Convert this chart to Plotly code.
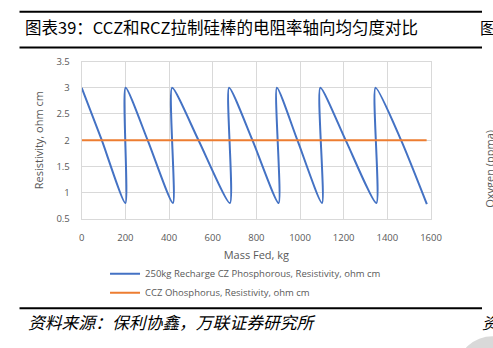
import plotly.graph_objects as go

# ---- data ----
recharge_x = [0, 92, 200, 201, 302, 418, 414, 535, 679, 675, 782, 902, 894, 988, 1101, 1093, 1209, 1350, 1346, 1463, 1581]
recharge_y = [3.0, 2.0, 0.8, 3.0, 2.0, 0.8, 3.0, 2.0, 0.8, 3.0, 2.0, 0.8, 3.0, 2.0, 0.8, 3.0, 2.0, 0.8, 3.0, 2.0, 0.78]
ccz_x = [0, 1580]
ccz_y = [2.0, 2.0]

name_recharge = "250kg Recharge CZ Phosphorous, Resistivity, ohm cm"
name_ccz = "CCZ Ohosphorus, Resistivity, ohm cm"
x_ticks = [0, 200, 400, 600, 800, 1000, 1200, 1400, 1600]
y_ticks = [0.5, 1, 1.5, 2, 2.5, 3, 3.5]
y_tick_labels = ["0.5", "1", "1.5", "2", "2.5", "3", "3.5"]

W, H = 493, 348
def px(x):
    return x / W
def py(y):
    return 1 - y / H

GRAY = "#595959"
GRID = "#d9d9d9"
TICKFONT = dict(family="Open Sans", size=9.5, color=GRAY)

fig = go.Figure()
fig.add_trace(go.Scatter(x=recharge_x, y=recharge_y, mode="lines", name=name_recharge,
                         line=dict(color="#4472C4", width=2, shape="spline", smoothing=0.6)))
fig.add_trace(go.Scatter(x=ccz_x, y=ccz_y, mode="lines", name=name_ccz,
                         line=dict(color="#ED7D31", width=2)))

fig.update_layout(
    width=W, height=H,
    margin=dict(l=0, r=0, t=0, b=0),
    paper_bgcolor="white", plot_bgcolor="white",
    showlegend=True,
    legend=dict(orientation="v", x=px(105), y=py(262), xanchor="left", yanchor="top",
                font=dict(family="Open Sans", size=9.5, color=GRAY),
                bgcolor="rgba(0,0,0,0)", itemwidth=30, tracegroupgap=0),
    xaxis=dict(domain=[px(81), px(440.5)], range=[0, 1600], tickvals=x_ticks,
               showgrid=True, gridcolor=GRID, gridwidth=1, zeroline=False,
               showline=True, linecolor=GRID, mirror=True,
               tickfont=TICKFONT, ticks="", ticklabelstandoff=10,
               title=dict(text="Mass Fed, kg", font=dict(family="Open Sans", size=11, color=GRAY), standoff=8)),
    yaxis=dict(domain=[py(220), py(56.7)], range=[0.5, 3.5], tickvals=y_ticks, ticktext=y_tick_labels,
               showgrid=True, gridcolor=GRID, gridwidth=1, zeroline=False,
               showline=True, linecolor=GRID, mirror=True,
               tickfont=TICKFONT, ticks="", ticklabelstandoff=9,
               title=dict(text="Resistivity, ohm cm", font=dict(family="Open Sans", size=11, color=GRAY), standoff=10)),
)

shapes = [
    dict(type="line", xref="paper", yref="paper", x0=px(17), x1=px(493), y0=py(5), y1=py(5),
         line=dict(color="black", width=2)),
    dict(type="line", xref="paper", yref="paper", x0=px(17), x1=px(493), y0=py(42), y1=py(42),
         line=dict(color="black", width=2)),
    dict(type="line", xref="paper", yref="paper", x0=px(17), x1=px(493), y0=py(313), y1=py(313),
         line=dict(color="black", width=2)),
    dict(type="circle", xref="paper", yref="paper", x0=px(468), x1=px(540), y0=py(342), y1=py(410),
         fillcolor="#d9d9d9", line=dict(width=0)),
]
fig.update_layout(shapes=shapes)

CJK = "Noto Sans CJK SC"
annotations = [
    dict(text="图表39：CCZ和RCZ拉制硅棒的电阻率轴向均匀度对比", x=px(21), y=py(21), xref="paper", yref="paper",
         xanchor="left", yanchor="middle", showarrow=False, font=dict(family=CJK, size=16.5, color="black")),
    dict(text="图", x=px(481), y=py(21), xref="paper", yref="paper", xshift=8,
         xanchor="left", yanchor="middle", showarrow=False, font=dict(family=CJK, size=16, color="black")),
    dict(text="资料来源：保利协鑫，万联证券研究所", x=px(24), y=py(327), xref="paper", yref="paper",
         xanchor="left", yanchor="middle", showarrow=False,
         font=dict(family=CJK, size=16.8, color="black", style="italic")),
    dict(text="资", x=px(483), y=py(327), xref="paper", yref="paper", xshift=8,
         xanchor="left", yanchor="middle", showarrow=False,
         font=dict(family=CJK, size=16, color="black", style="italic")),
    dict(text="Oxygen (ppma)", x=px(493), y=py(168), xref="paper", yref="paper", xshift=8,
         xanchor="center", yanchor="middle", showarrow=False, textangle=-90,
         font=dict(family="Open Sans", size=11, color=GRAY)),
]
fig.update_layout(annotations=annotations)

fig.write_html("out.html")
